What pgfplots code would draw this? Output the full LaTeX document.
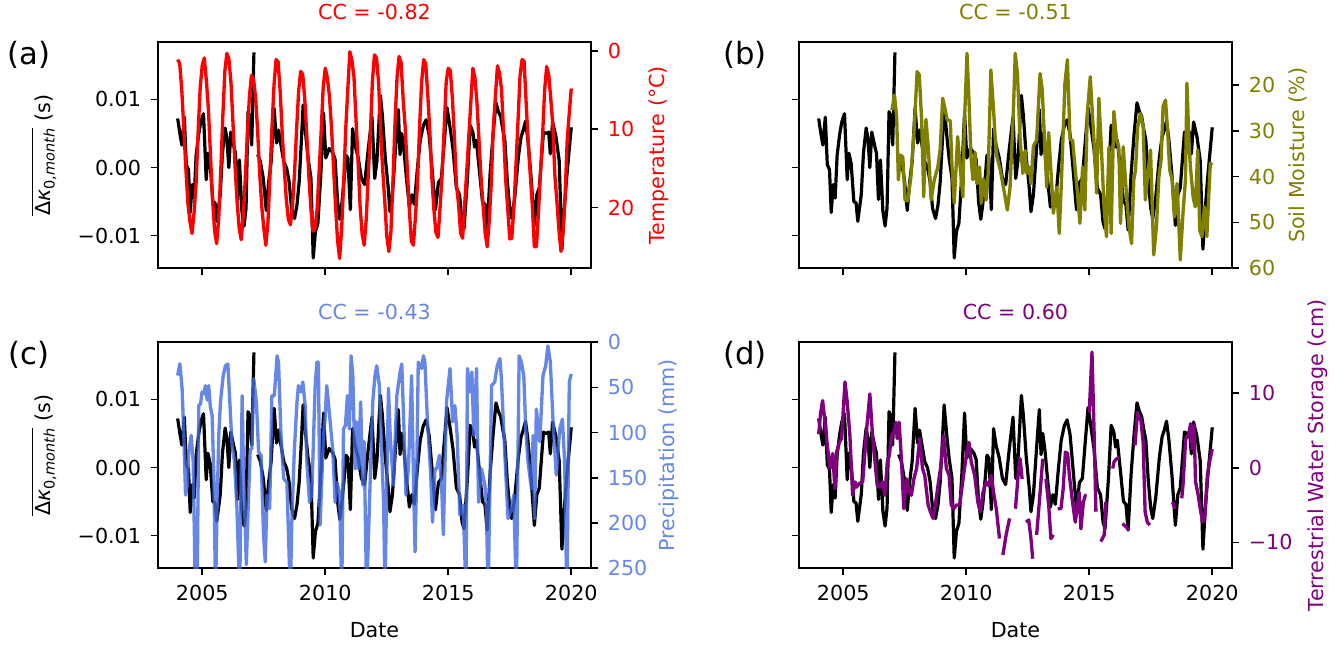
\documentclass[border=0pt]{standalone}
\usepackage{fontspec}
\setmainfont{DejaVu Sans}
\usepackage{amsmath}
\usepackage{pgfplots}
\usepackage{pgfplotstable}
\pgfplotsset{compat=1.18}

\definecolor{tempred}{RGB}{255,0,0}
\definecolor{smolive}{RGB}{128,128,0}
\definecolor{prblue}{RGB}{65,105,225}
\definecolor{twspurple}{RGB}{128,0,128}

% monthly mean Delta kappa_0 (s)
\pgfplotstableread[row sep=\\]{
year dk\\
2004.00 0.0072\\ 2004.09 0.0050\\ 2004.17 0.0033\\ 2004.27 0.0074\\ 2004.35 0.0004\\ 2004.44 -0.0003\\
2004.51 -0.0066\\ 2004.59 -0.0025\\ 2004.67 -0.0045\\ 2004.75 0.0018\\ 2004.85 0.0048\\ 2004.94 0.0067\\
2005.05 0.0079\\ 2005.16 -0.0018\\ 2005.23 0.0021\\ 2005.32 0.0006\\ 2005.43 -0.0050\\ 2005.52 -0.0052\\
2005.59 -0.0079\\ 2005.73 -0.0040\\ 2005.82 0.0021\\ 2005.93 0.0058\\ 2006.00 0.0043\\ 2006.08 0.0000\\
2006.16 0.0052\\ 2006.27 0.0033\\ 2006.35 0.0021\\ 2006.43 -0.0047\\ 2006.51 0.0011\\ 2006.61 -0.0064\\
2006.70 -0.0086\\ 2006.78 -0.0059\\ 2006.86 0.0082\\ 2006.94 0.0074\\ 2007.01 0.0033\\ 2007.10 0.0169\\
2007.18 nan\\
2007.25 0.0019\\ 2007.36 0.0009\\ 2007.48 -0.0016\\ 2007.60 -0.0063\\ 2007.70 -0.0021\\ 2007.80 0.0009\\
2007.92 0.0087\\ 2008.02 0.0036\\ 2008.10 0.0055\\ 2008.20 0.0033\\ 2008.31 0.0009\\ 2008.43 -0.0001\\
2008.53 -0.0021\\ 2008.63 -0.0060\\ 2008.75 -0.0075\\ 2008.85 -0.0055\\ 2008.94 -0.0021\\ 2009.02 0.0033\\
2009.10 0.0092\\ 2009.20 0.0050\\ 2009.30 0.0014\\ 2009.42 -0.0016\\ 2009.51 -0.0133\\ 2009.60 -0.0094\\
2009.70 -0.0082\\ 2009.82 -0.0010\\ 2009.93 0.0080\\ 2010.02 0.0014\\ 2010.16 0.0028\\ 2010.30 0.0022\\
2010.40 0.0012\\ 2010.50 -0.0050\\ 2010.59 -0.0076\\ 2010.67 -0.0054\\ 2010.77 -0.0016\\ 2010.84 0.0018\\
2010.92 0.0014\\ 2011.02 -0.0062\\ 2011.11 0.0057\\ 2011.21 0.0033\\ 2011.34 0.0014\\ 2011.47 -0.0016\\
2011.60 -0.0025\\ 2011.75 0.0028\\ 2011.90 0.0074\\ 2012.01 -0.0016\\ 2012.10 0.0010\\ 2012.24 0.0106\\
2012.32 0.0077\\ 2012.44 0.0014\\ 2012.56 -0.0030\\ 2012.63 -0.0065\\ 2012.73 -0.0040\\ 2012.86 0.0030\\
2012.97 0.0085\\ 2013.04 0.0019\\ 2013.11 0.0050\\ 2013.20 0.0025\\ 2013.30 -0.0016\\ 2013.42 -0.0058\\
2013.52 -0.0040\\ 2013.62 -0.0054\\ 2013.75 0.0000\\ 2013.86 0.0040\\ 2013.99 0.0062\\ 2014.10 0.0070\\
2014.22 0.0048\\ 2014.35 -0.0006\\ 2014.48 -0.0062\\ 2014.60 -0.0022\\ 2014.72 -0.0016\\ 2014.82 0.0030\\
2014.95 0.0088\\ 2015.06 0.0062\\ 2015.19 0.0028\\ 2015.33 -0.0030\\ 2015.46 -0.0040\\ 2015.56 -0.0080\\
2015.64 -0.0090\\ 2015.78 -0.0016\\ 2015.89 0.0062\\ 2016.00 0.0052\\ 2016.07 0.0030\\ 2016.14 0.0040\\
2016.27 -0.0006\\ 2016.39 -0.0050\\ 2016.49 -0.0054\\ 2016.58 -0.0092\\ 2016.70 -0.0010\\ 2016.82 0.0048\\
2016.94 0.0095\\ 2017.04 0.0082\\ 2017.13 0.0075\\ 2017.22 0.0055\\ 2017.30 0.0040\\ 2017.40 -0.0020\\
2017.50 -0.0060\\ 2017.58 -0.0075\\ 2017.70 -0.0045\\ 2017.85 0.0015\\ 2017.96 0.0045\\ 2018.05 0.0055\\
2018.14 0.0068\\ 2018.23 0.0043\\ 2018.36 -0.0011\\ 2018.50 -0.0085\\ 2018.60 -0.0040\\ 2018.70 -0.0030\\
2018.77 0.0004\\ 2018.87 0.0052\\ 2018.97 0.0050\\ 2019.08 0.0052\\ 2019.15 0.0020\\ 2019.24 0.0067\\
2019.38 0.0045\\ 2019.51 0.0010\\ 2019.62 -0.0120\\ 2019.72 -0.0059\\ 2019.81 -0.0016\\ 2020.00 0.0059\\
}\kappatab

% monthly mean temperature (deg C)
\pgfplotstableread[row sep=\\]{
year t\\
2004.000 1.1\\ 2004.083 1.6\\ 2004.167 5.0\\ 2004.250 10.0\\ 2004.333 15.0\\ 2004.417 19.5\\
2004.500 21.8\\ 2004.583 23.3\\ 2004.667 20.6\\ 2004.750 16.8\\ 2004.833 10.2\\ 2004.917 4.6\\
2005.000 1.8\\ 2005.083 0.9\\ 2005.167 3.8\\ 2005.250 7.5\\ 2005.333 13.2\\ 2005.417 19.0\\
2005.500 22.9\\ 2005.583 24.6\\ 2005.667 21.5\\ 2005.750 15.4\\ 2005.833 8.5\\ 2005.917 2.6\\
2006.000 0.3\\ 2006.083 1.0\\ 2006.167 4.1\\ 2006.250 9.3\\ 2006.333 14.8\\ 2006.417 19.3\\
2006.500 22.6\\ 2006.583 24.1\\ 2006.667 21.0\\ 2006.750 16.2\\ 2006.833 10.5\\ 2006.917 5.8\\
2007.000 3.1\\ 2007.083 3.6\\ 2007.167 5.9\\ 2007.250 10.2\\ 2007.333 15.6\\ 2007.417 19.8\\
2007.500 22.6\\ 2007.583 24.8\\ 2007.667 22.0\\ 2007.750 16.1\\ 2007.833 9.8\\ 2007.917 4.3\\
2008.000 1.1\\ 2008.083 1.4\\ 2008.167 5.2\\ 2008.250 10.5\\ 2008.333 15.0\\ 2008.417 19.0\\
2008.500 21.5\\ 2008.583 22.2\\ 2008.667 19.8\\ 2008.750 15.6\\ 2008.833 10.1\\ 2008.917 5.1\\
2009.000 2.6\\ 2009.083 3.0\\ 2009.167 6.2\\ 2009.250 10.8\\ 2009.333 16.0\\ 2009.417 20.2\\
2009.500 23.0\\ 2009.583 22.6\\ 2009.667 20.3\\ 2009.750 15.4\\ 2009.833 10.2\\ 2009.917 4.6\\
2010.000 2.2\\ 2010.083 3.4\\ 2010.167 5.7\\ 2010.250 9.6\\ 2010.333 14.6\\ 2010.417 19.8\\
2010.500 24.2\\ 2010.583 26.5\\ 2010.667 22.6\\ 2010.750 16.6\\ 2010.833 9.9\\ 2010.917 4.8\\
2011.000 0.1\\ 2011.083 1.2\\ 2011.167 3.3\\ 2011.250 8.8\\ 2011.333 14.1\\ 2011.417 19.9\\
2011.500 23.4\\ 2011.583 24.8\\ 2011.667 21.4\\ 2011.750 15.7\\ 2011.833 10.6\\ 2011.917 3.8\\
2012.000 0.5\\ 2012.083 0.9\\ 2012.167 4.0\\ 2012.250 10.2\\ 2012.333 15.1\\ 2012.417 19.1\\
2012.500 23.6\\ 2012.583 25.6\\ 2012.667 23.2\\ 2012.750 16.8\\ 2012.833 9.3\\ 2012.917 3.4\\
2013.000 0.7\\ 2013.083 1.5\\ 2013.167 6.2\\ 2013.250 9.8\\ 2013.333 15.0\\ 2013.417 20.2\\
2013.500 24.3\\ 2013.583 24.8\\ 2013.667 21.1\\ 2013.750 16.9\\ 2013.833 9.7\\ 2013.917 4.0\\
2014.000 1.1\\ 2014.083 1.6\\ 2014.167 5.6\\ 2014.250 10.2\\ 2014.333 16.2\\ 2014.417 20.3\\
2014.500 23.2\\ 2014.583 23.8\\ 2014.667 20.0\\ 2014.750 15.8\\ 2014.833 9.9\\ 2014.917 3.9\\
2015.000 2.2\\ 2015.083 2.5\\ 2015.167 6.0\\ 2015.250 11.0\\ 2015.333 17.1\\ 2015.417 19.5\\
2015.500 23.2\\ 2015.583 23.9\\ 2015.667 19.6\\ 2015.750 15.4\\ 2015.833 11.0\\ 2015.917 6.6\\
2016.000 2.2\\ 2016.083 3.4\\ 2016.167 6.6\\ 2016.250 11.4\\ 2016.333 16.2\\ 2016.417 19.8\\
2016.500 23.2\\ 2016.583 25.0\\ 2016.667 21.6\\ 2016.750 16.8\\ 2016.833 9.6\\ 2016.917 5.8\\
2017.000 1.9\\ 2017.083 2.8\\ 2017.167 5.0\\ 2017.250 10.6\\ 2017.333 16.4\\ 2017.417 20.1\\
2017.500 24.0\\ 2017.583 23.9\\ 2017.667 20.0\\ 2017.750 14.7\\ 2017.833 9.1\\ 2017.917 3.2\\
2018.000 1.1\\ 2018.083 1.3\\ 2018.167 6.7\\ 2018.250 11.6\\ 2018.333 15.8\\ 2018.417 19.7\\
2018.500 25.0\\ 2018.583 25.0\\ 2018.667 20.6\\ 2018.750 15.5\\ 2018.833 10.9\\ 2018.917 5.0\\
2019.000 2.0\\ 2019.083 3.0\\ 2019.167 6.1\\ 2019.250 9.4\\ 2019.333 15.9\\ 2019.417 19.2\\
2019.500 22.9\\ 2019.583 25.6\\ 2019.667 23.0\\ 2019.750 18.5\\ 2019.833 11.5\\ 2019.917 8.0\\
2020.000 4.8\\
}\temptab

% soil moisture (%)
\pgfplotstableread[row sep=\\]{
year sm\\
2006.98 25.5\\ 2007.08 22.2\\ 2007.17 26.9\\ 2007.24 40.7\\ 2007.32 35.3\\ 2007.42 35.7\\
2007.51 45.1\\ 2007.62 45.3\\ 2007.75 40.0\\ 2007.89 29.1\\ 2008.00 17.1\\ 2008.09 17.8\\
2008.19 28.2\\ 2008.27 44.4\\ 2008.36 27.5\\ 2008.46 34.0\\ 2008.57 45.1\\ 2008.70 40.7\\
2008.84 38.0\\ 2008.94 34.0\\ 2009.04 22.9\\ 2009.13 25.0\\ 2009.22 27.6\\ 2009.35 27.8\\
2009.42 37.8\\ 2009.51 45.8\\ 2009.65 31.3\\ 2009.76 38.6\\ 2009.86 44.4\\ 2009.92 29.0\\
2010.03 13.1\\ 2010.11 23.3\\ 2010.19 35.6\\ 2010.27 40.7\\ 2010.36 34.8\\ 2010.43 41.5\\
2010.54 37.9\\ 2010.61 45.8\\ 2010.70 40.5\\ 2010.81 45.1\\ 2010.89 39.3\\ 2011.00 16.7\\
2011.11 25.5\\ 2011.18 32.0\\ 2011.24 35.5\\ 2011.38 38.5\\ 2011.51 42.3\\ 2011.67 47.3\\
2011.78 42.3\\ 2011.92 25.0\\ 2011.99 13.1\\ 2012.08 17.5\\ 2012.19 32.0\\ 2012.30 39.3\\
2012.39 34.3\\ 2012.46 39.3\\ 2012.57 38.0\\ 2012.63 41.5\\ 2012.73 33.3\\ 2012.86 32.0\\
2013.00 17.5\\ 2013.09 21.1\\ 2013.16 29.8\\ 2013.27 42.3\\ 2013.35 30.4\\ 2013.43 37.6\\
2013.54 48.0\\ 2013.68 42.3\\ 2013.78 52.4\\ 2013.87 40.8\\ 2014.01 19.7\\ 2014.11 14.5\\
2014.22 32.0\\ 2014.32 32.0\\ 2014.42 37.9\\ 2014.51 43.0\\ 2014.62 50.2\\ 2014.73 37.9\\
2014.82 47.3\\ 2014.92 26.3\\ 2015.04 18.2\\ 2015.19 32.0\\ 2015.30 43.6\\ 2015.39 22.9\\
2015.49 33.5\\ 2015.60 46.6\\ 2015.70 53.1\\ 2015.80 33.5\\ 2015.89 52.4\\ 2016.00 25.8\\
2016.11 32.0\\ 2016.20 33.5\\ 2016.27 50.2\\ 2016.38 33.5\\ 2016.47 40.7\\ 2016.61 50.9\\
2016.72 54.6\\ 2016.81 40.7\\ 2016.88 38.6\\ 2016.97 29.1\\ 2017.08 26.2\\ 2017.19 29.1\\
2017.28 45.1\\ 2017.38 39.3\\ 2017.49 34.2\\ 2017.62 57.1\\ 2017.73 50.9\\ 2017.83 40.0\\
2017.92 36.4\\ 2018.00 24.7\\ 2018.10 23.3\\ 2018.19 30.5\\ 2018.27 38.6\\ 2018.37 40.7\\
2018.46 48.8\\ 2018.57 41.5\\ 2018.70 58.2\\ 2018.81 48.0\\ 2018.91 40.7\\ 2018.97 19.6\\
2019.05 32.0\\ 2019.11 37.8\\ 2019.22 44.4\\ 2019.31 46.6\\ 2019.41 34.2\\ 2019.49 51.7\\
2019.58 53.1\\ 2019.68 46.6\\ 2019.78 53.1\\ 2019.92 37.1\\ 2020.00 37.5\\
}\smtab

% precipitation (mm)
\pgfplotstableread[row sep=\\]{
year p\\
2004.00 36.8\\ 2004.09 23.9\\ 2004.18 51.5\\ 2004.25 103\\ 2004.32 169\\ 2004.39 158\\
2004.45 121\\ 2004.55 103\\ 2004.63 132\\ 2004.72 280\\ 2004.79 280\\ 2004.86 70\\
2004.93 68\\ 2004.99 55\\ 2005.06 57\\ 2005.13 48\\ 2005.20 64\\ 2005.26 48\\
2005.33 72\\ 2005.40 81\\ 2005.47 147\\ 2005.54 280\\ 2005.60 184\\ 2005.67 103\\
2005.74 66\\ 2005.85 37\\ 2005.94 26\\ 2006.04 24\\ 2006.12 66\\ 2006.21 114\\
2006.31 132\\ 2006.41 184\\ 2006.52 280\\ 2006.62 59\\ 2006.68 147\\ 2006.79 246\\
2006.85 195\\ 2006.95 118\\ 2007.02 118\\ 2007.09 40\\ 2007.20 66\\ 2007.29 121\\
2007.39 125\\ 2007.49 213\\ 2007.56 243\\ 2007.63 169\\ 2007.74 184\\ 2007.83 59\\
2007.93 59\\ 2008.04 15\\ 2008.10 22\\ 2008.20 103\\ 2008.31 151\\ 2008.44 155\\
2008.58 280\\ 2008.64 199\\ 2008.74 121\\ 2008.85 66\\ 2008.91 48\\ 2009.01 55\\
2009.09 44\\ 2009.18 70\\ 2009.25 132\\ 2009.36 177\\ 2009.45 169\\ 2009.59 48\\
2009.66 22\\ 2009.72 22\\ 2009.79 202\\ 2009.86 151\\ 2009.93 103\\ 2009.99 85\\
2010.06 48\\ 2010.20 88\\ 2010.31 121\\ 2010.40 177\\ 2010.47 155\\ 2010.58 166\\
2010.67 280\\ 2010.74 96\\ 2010.82 92\\ 2010.90 59\\ 2010.98 96\\ 2011.05 15\\
2011.12 37\\ 2011.21 140\\ 2011.28 88\\ 2011.35 140\\ 2011.44 66\\ 2011.52 158\\
2011.58 110\\ 2011.68 280\\ 2011.75 221\\ 2011.82 158\\ 2011.93 66\\ 2012.02 37\\
2012.09 26\\ 2012.20 48\\ 2012.29 118\\ 2012.37 177\\ 2012.43 280\\ 2012.50 155\\
2012.57 51\\ 2012.64 103\\ 2012.77 158\\ 2012.91 59\\ 2013.04 33\\ 2013.11 24\\
2013.20 96\\ 2013.28 169\\ 2013.38 140\\ 2013.51 37\\ 2013.58 143\\ 2013.65 232\\
2013.72 140\\ 2013.78 22\\ 2013.85 26\\ 2013.92 29\\ 2013.99 15\\ 2014.05 22\\
2014.15 85\\ 2014.23 121\\ 2014.28 143\\ 2014.36 199\\ 2014.46 140\\ 2014.53 140\\
2014.64 125\\ 2014.73 158\\ 2014.80 213\\ 2014.87 132\\ 2014.93 66\\ 2015.07 29\\
2015.18 88\\ 2015.27 70\\ 2015.36 103\\ 2015.47 191\\ 2015.61 180\\ 2015.72 280\\
2015.78 29\\ 2015.88 55\\ 2015.96 33\\ 2016.04 103\\ 2016.15 29\\ 2016.23 177\\
2016.35 140\\ 2016.49 158\\ 2016.55 184\\ 2016.62 280\\ 2016.76 48\\ 2016.89 44\\
2016.99 26\\ 2017.10 18\\ 2017.16 40\\ 2017.30 125\\ 2017.43 195\\ 2017.57 184\\
2017.66 169\\ 2017.77 280\\ 2017.88 15\\ 2017.97 22\\ 2018.07 37\\ 2018.15 96\\
2018.24 132\\ 2018.38 162\\ 2018.45 103\\ 2018.51 195\\ 2018.58 74\\ 2018.72 110\\
2018.85 37\\ 2018.96 26\\ 2019.05 4\\ 2019.15 22\\ 2019.26 88\\ 2019.39 147\\
2019.53 96\\ 2019.64 85\\ 2019.73 132\\ 2019.82 280\\ 2019.92 44\\ 2020.00 35\\
}\prtab

% terrestrial water storage anomaly (cm), with missing months
\pgfplotstableread[row sep=\\]{
year tws\\
2004.00 4.5\\ 2004.08 7.4\\ 2004.16 9.0\\ 2004.26 6.1\\ 2004.35 3.0\\ 2004.46 -0.1\\
2004.57 1.9\\ 2004.66 -2.8\\ 2004.73 2.1\\ 2004.84 3.4\\ 2004.93 3.9\\ 2005.07 11.5\\
2005.16 8.8\\ 2005.27 4.3\\ 2005.38 -3.7\\ 2005.48 -1.9\\ 2005.54 -2.6\\ 2005.65 -2.1\\
2005.79 -1.9\\ 2005.95 5.2\\ 2006.08 9.9\\ 2006.19 4.3\\ 2006.29 0.8\\ 2006.38 -2.4\\
2006.49 -2.6\\ 2006.60 -1.9\\ 2006.69 -3.7\\ 2006.79 0.8\\ 2006.87 1.6\\ 2006.96 4.3\\
2007.06 4.8\\ 2007.14 6.1\\ 2007.19 3.9\\ 2007.27 6.1\\ 2007.37 0.8\\ 2007.46 -5.5\\
2007.57 -1.5\\ 2007.68 -3.3\\ 2007.77 -3.7\\ 2007.87 -1.5\\ 2007.98 -0.1\\ 2008.11 3.9\\
2008.22 -0.1\\ 2008.31 -1.0\\ 2008.45 -5.0\\ 2008.54 -5.9\\ 2008.65 -6.8\\ 2008.76 -4.6\\
2008.85 -2.4\\ 2008.95 -0.1\\ 2009.08 4.3\\ 2009.19 -0.1\\ 2009.30 -1.0\\ 2009.39 -5.0\\
2009.49 -5.5\\ 2009.60 -5.0\\ 2009.73 -5.0\\ 2009.87 -1.5\\ 2010.00 1.6\\ 2010.11 3.4\\
2010.20 0.8\\ 2010.34 -1.0\\ 2010.47 -4.6\\ 2010.57 -5.9\\ 2010.68 -3.3\\ 2010.81 -1.9\\
2010.92 -2.4\\ 2011.02 -1.0\\ 2011.11 -3.3\\ 2011.22 -5.5\\ 2011.35 -9.5\\ 2011.42 nan\\
2011.49 -11.7\\ 2011.62 -9.0\\ 2011.76 -6.8\\ 2011.88 nan\\
2012.00 -5.5\\ 2012.13 -0.1\\ 2012.19 1.2\\ 2012.27 -1.5\\ 2012.35 nan\\
2012.43 -7.3\\ 2012.54 -7.0\\ 2012.63 -9.5\\ 2012.70 -12.2\\ 2012.78 nan\\
2012.86 -9.0\\ 2012.97 -4.6\\ 2013.11 1.2\\ 2013.18 nan\\
2013.24 -1.5\\ 2013.35 -5.0\\ 2013.44 -9.5\\ 2013.54 -9.0\\ 2013.62 nan\\
2013.71 -5.5\\ 2013.85 -5.5\\ 2013.94 -2.8\\ 2014.03 2.1\\ 2014.12 1.9\\ 2014.19 -1.0\\
2014.32 -4.6\\ 2014.43 -7.3\\ 2014.53 -5.0\\ 2014.59 -3.3\\ 2014.66 -8.2\\ 2014.76 -4.6\\
2014.84 -3.7\\ 2014.89 -3.7\\ 2014.95 nan\\
2015.00 7.4\\ 2015.11 15.5\\ 2015.20 4.3\\ 2015.27 -5.9\\ 2015.37 nan\\
2015.47 -9.9\\ 2015.61 -9.0\\ 2015.67 -4.6\\ 2015.80 nan\\
2015.95 -0.1\\ 2016.01 0.8\\ 2016.11 1.2\\ 2016.21 1.4\\ 2016.28 nan\\
2016.35 -7.5\\ 2016.49 -7.9\\ 2016.62 -8.4\\ 2016.75 nan\\
2016.86 3.0\\ 2016.96 7.4\\ 2017.03 6.6\\ 2017.09 6.6\\ 2017.19 3.4\\ 2017.27 -5.9\\
2017.36 -7.3\\ 2017.46 -7.7\\ 2017.90 nan\\
2018.38 -4.6\\ 2018.49 -5.5\\ 2018.62 nan\\
2018.76 -4.1\\ 2018.81 -2.4\\ 2018.92 3.9\\ 2019.03 4.3\\ 2019.12 5.9\\ 2019.19 2.5\\
2019.26 5.7\\ 2019.32 -1.9\\ 2019.43 -3.7\\ 2019.53 -5.9\\ 2019.62 -7.3\\ 2019.70 -6.4\\
2019.80 -1.0\\ 2019.89 0.8\\ 2020.00 2.5\\
}\twstab

\newcommand{\lblfont}{\fontsize{15.5}{18}\selectfont}

\pgfplotsset{
  base/.style={
    scale only axis, width=324.7pt, height=169.5pt,
    xmin=2003.2, xmax=2020.8,
    xtick={2005,2010,2015,2020},
    scaled x ticks=false, scaled y ticks=false,
    tick align=outside, major tick length=5.2pt,
    every tick/.style={black, line width=1.2pt},
    axis line style={line width=1.2pt},
    tick label style={font=\lblfont},
    label style={font=\lblfont},
    title style={font=\lblfont},
    unbounded coords=jump,
    xticklabel shift=4pt, yticklabel shift=4pt,
  },
  kappa/.style={
    base,
    ymin=-0.0148, ymax=0.0184,
    ytick={-0.01,0,0.01},
    xtick pos=lower, ytick pos=lower,
  },
  kappalabels/.style={
    yticklabels={−0.01,0.00,0.01},
    ylabel={$\overline{\text{Δ}\textit{κ}_{\text{0,}\textit{month}}}$ (s)},
    ylabel style={at={(axis description cs:-0.264,0.5)}, anchor=center, rotate=0},
  },
  datelabels/.style={
    xticklabels={2005,2010,2015,2020},
    xlabel={Date},
    xlabel style={at={(axis description cs:0.5,0)}, anchor=base, yshift=-52.3pt},
  },
  twin/.style={
    base,
    axis x line=none, axis y line*=right,
    yticklabel style={text=#1},
    ylabel style={text=#1, anchor=center, rotate=0},
    title style={text=#1, at={(axis description cs:0.5,1)}, anchor=base, yshift=10.7pt},
  },
  blk/.style={black, line width=2.4pt, line join=round},
  ser/.style={#1, line width=2.5pt, line join=round},
}

\begin{document}
\begin{tikzpicture}
\path[use as bounding box] (0,0) rectangle (1005pt,484.5pt);

% (a) temperature
\begin{axis}[kappa, kappalabels, at={(118.5pt,283.3pt)}, anchor=south west, xticklabels={}]
\addplot[blk] table[x=year,y=dk]{\kappatab};
\end{axis}
\begin{axis}[twin=tempred, at={(118.5pt,283.3pt)}, anchor=south west,
  y dir=reverse, ymin=-1.11, ymax=27.74, ytick={0,10,20}, yticklabels={0,10,20},
  ylabel={Temperature (°C)}, ylabel style={at={(axis description cs:1.156,0.5)}},
  title={CC = -0.82}]
\addplot[ser=tempred] table[x=year,y=t]{\temptab};
\end{axis}

% (b) soil moisture
\begin{axis}[kappa, at={(599.25pt,283.3pt)}, anchor=south west, xticklabels={}, yticklabels={}]
\addplot[blk] table[x=year,y=dk]{\kappatab};
\end{axis}
\begin{axis}[twin=smolive, at={(599.25pt,283.3pt)}, anchor=south west,
  y dir=reverse, ymin=10.68, ymax=60, ytick={20,30,40,50,60}, yticklabels={20,30,40,50,60},
  ylabel={Soil Moisture (\%)}, ylabel style={at={(axis description cs:1.152,0.5)}},
  title={CC = -0.51}]
\addplot[ser=smolive] table[x=year,y=sm]{\smtab};
\end{axis}

% (c) precipitation
\begin{axis}[kappa, kappalabels, datelabels, at={(118.5pt,58.3pt)}, anchor=south west]
\addplot[blk] table[x=year,y=dk]{\kappatab};
\end{axis}
\begin{axis}[twin=prblue!80, at={(118.5pt,58.3pt)}, anchor=south west,
  y dir=reverse, ymin=0, ymax=250, ytick={0,50,100,150,200,250},
  yticklabels={0,50,100,150,200,250},
  ylabel={Precipitation (mm)}, ylabel style={at={(axis description cs:1.179,0.5)}},
  title={CC = -0.43}]
\addplot[ser=prblue, draw opacity=0.8] table[x=year,y=p]{\prtab};
\end{axis}

% (d) terrestrial water storage
\begin{axis}[kappa, datelabels, at={(599.25pt,58.3pt)}, anchor=south west, yticklabels={}]
\addplot[blk] table[x=year,y=dk]{\kappatab};
\end{axis}
\begin{axis}[twin=twspurple, at={(599.25pt,58.3pt)}, anchor=south west,
  ymin=-13.48, ymax=16.82, ytick={-10,0,10}, yticklabels={−10,0,10},
  ylabel={Terrestrial Water Storage (cm)}, ylabel style={at={(axis description cs:1.198,0.5)}},
  title={CC = 0.60}]
\addplot[ser=twspurple] table[x=year,y=tws]{\twstab};
\end{axis}

% panel letters
\node[font=\fontsize{23}{27}\selectfont] at (21.75pt,443.3pt) {(a)};
\node[font=\fontsize{23}{27}\selectfont] at (558.75pt,443.3pt) {(b)};
\node[font=\fontsize{23}{27}\selectfont] at (21.75pt,218.3pt) {(c)};
\node[font=\fontsize{23}{27}\selectfont] at (558.75pt,218.3pt) {(d)};
\end{tikzpicture}
\end{document}
